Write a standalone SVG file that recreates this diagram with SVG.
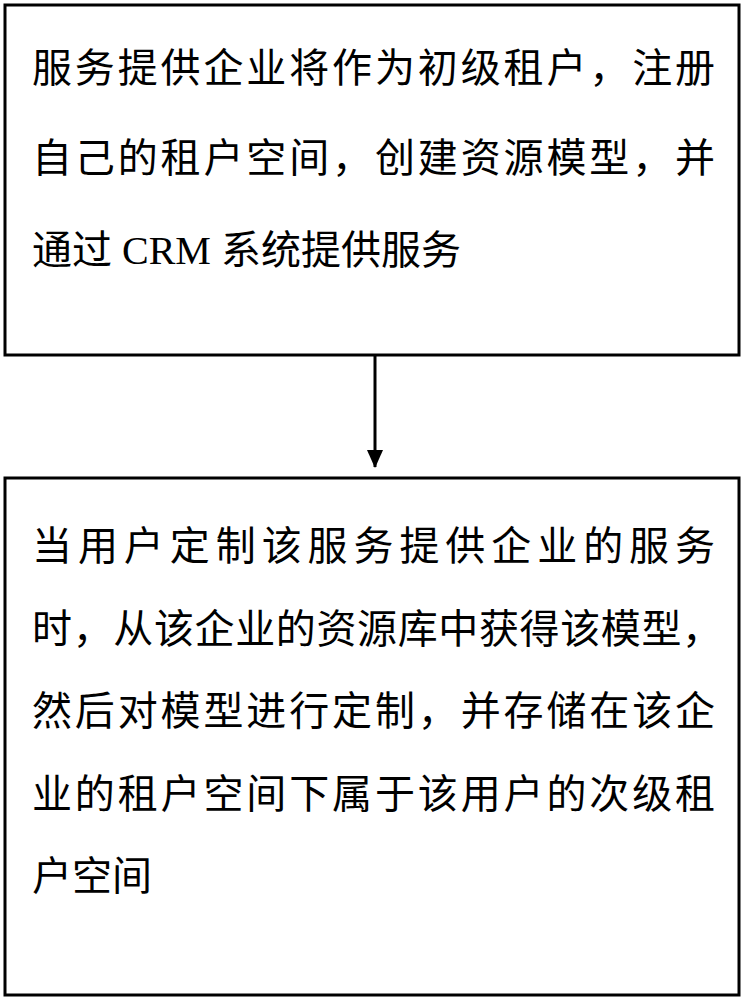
<svg xmlns="http://www.w3.org/2000/svg" width="745" height="1000" viewBox="0 0 745 1000">
<style>
.b{fill:#fff;stroke:#000;stroke-width:3}
.t{font-family:"Liberation Serif","Noto Sans CJK SC",serif;font-size:40px;fill:#000}
</style>
<defs><marker id="a" markerWidth="18" markerHeight="18" refX="17" refY="8" orient="auto" markerUnits="userSpaceOnUse" viewBox="0 0 18 16"><path d="M0,0 L18,8 L0,16 z"/></marker></defs>
<g id="n1"><rect class="b" x="5" y="5" width="734" height="350"/>
<text class="t" x="32" y="82" textLength="683" lengthAdjust="spacing">服务提供企业将作为初级租户，注册</text>
<text class="t" x="32" y="172" textLength="683" lengthAdjust="spacing">自己的租户空间，创建资源模型，并</text>
<text class="t" x="32" y="264">通过 CRM 系统提供服务</text></g>
<g id="n2"><rect class="b" x="5" y="478" width="734" height="517"/>
<text class="t" x="32" y="560" textLength="683" lengthAdjust="spacing">当用户定制该服务提供企业的服务</text>
<text class="t" x="32" y="643" textLength="690" lengthAdjust="spacing">时，从该企业的资源库中获得该模型，</text>
<text class="t" x="32" y="725" textLength="683" lengthAdjust="spacing">然后对模型进行定制，并存储在该企</text>
<text class="t" x="32" y="808" textLength="683" lengthAdjust="spacing">业的租户空间下属于该用户的次级租</text>
<text class="t" x="32" y="890">户空间</text></g>
<g id="c"><line x1="375" y1="356" x2="375" y2="467" stroke="#000" stroke-width="3" marker-end="url(#a)"/></g>
</svg>
